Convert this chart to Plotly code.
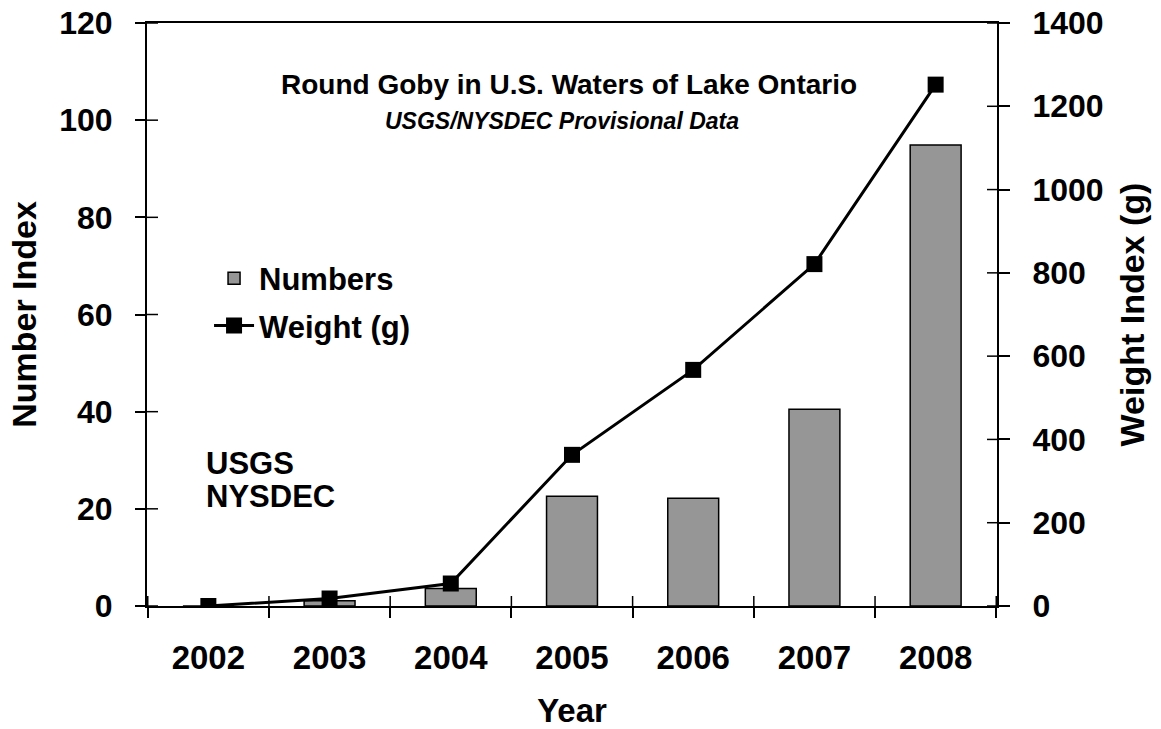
import plotly.graph_objects as go

years = ["2002", "2003", "2004", "2005", "2006", "2007", "2008"]
numbers = [0.0, 1.1, 3.6, 22.6, 22.2, 40.5, 94.9]
weight_g = [0, 18, 54, 363, 567, 821, 1252]

left_ticks = [0, 20, 40, 60, 80, 100, 120]
right_ticks = [0, 200, 400, 600, 800, 1000, 1200, 1400]

FONT = "Liberation Sans, Arial, sans-serif"


def bf(size):
    return dict(family=FONT, size=size, color="black", weight="bold")


fig = go.Figure()
fig.add_trace(go.Bar(
    x=years, y=numbers, name="Numbers", legendgroup="a",
    marker=dict(color="#969696", line=dict(color="black", width=1.5)),
    yaxis="y",
))
fig.add_trace(go.Scatter(
    x=years, y=weight_g, name="Weight (g)", mode="lines+markers", legendgroup="b",
    line=dict(color="black", width=3),
    marker=dict(symbol="square", size=16, color="black"),
    yaxis="y2",
))

W, H = 1161, 729
ml, mr, mt, mb = 147, 164, 23, 123
pw, ph = W - ml - mr, H - mt - mb

shapes = []
# inside halves of the crossing tick marks
for v in left_ticks:
    shapes.append(dict(type="line", xref="paper", yref="y", x0=0, x1=11 / pw, y0=v, y1=v,
                       line=dict(color="black", width=1.5)))
for v in right_ticks:
    shapes.append(dict(type="line", xref="paper", yref="y2", x0=1 - 10 / pw, x1=1, y0=v, y1=v,
                       line=dict(color="black", width=1.5)))
for i in range(len(years) + 1):
    shapes.append(dict(type="line", xref="x", yref="paper", x0=i - 0.5, x1=i - 0.5, y0=0, y1=10 / ph,
                       line=dict(color="black", width=1.5)))

fig.update_layout(
    width=W, height=H,
    margin=dict(l=ml, r=mr, t=mt, b=mb, pad=0, autoexpand=False),
    paper_bgcolor="white", plot_bgcolor="white",
    font=bf(20),
    bargap=0.58,
    showlegend=True,
    legend=dict(x=0.073, y=0.608, xanchor="left", yanchor="top",
                font=bf(31), bgcolor="rgba(0,0,0,0)", tracegroupgap=4, itemwidth=40),
    xaxis=dict(
        type="category", tickson="boundaries", ticks="outside", ticklen=10, tickwidth=1.5,
        tickcolor="black", showline=True, linecolor="black", linewidth=2, mirror=True,
        tickfont=bf(33), ticklabelstandoff=21, automargin=False,
        title=dict(text="Year", font=bf(33), standoff=29),
        showgrid=False, zeroline=False,
    ),
    yaxis=dict(
        range=[0, 120], tickvals=left_ticks, ticks="outside", ticklen=10, tickwidth=1.5,
        tickcolor="black", showline=True, linecolor="black", linewidth=2, mirror=True,
        tickfont=bf(32), ticklabelstandoff=16, automargin=False, ticklabeloverflow="allow",
        title=dict(text="Number Index", font=bf(34), standoff=12),
        showgrid=False, zeroline=False,
    ),
    yaxis2=dict(
        range=[0, 1400], tickvals=right_ticks, overlaying="y", side="right",
        ticks="outside", ticklen=11, tickwidth=1.5, tickcolor="black",
        showline=True, linecolor="black", linewidth=2, automargin=False,
        tickfont=bf(32), ticklabelstandoff=16, ticklabeloverflow="allow",
        title=dict(text="Weight Index (g)", font=bf(34), standoff=18),
        showgrid=False, zeroline=False,
    ),
    shapes=shapes,
    annotations=[
        dict(text="Round Goby in U.S. Waters of Lake Ontario", xref="paper", yref="paper",
             x=0.497, y=0.894, xanchor="center", yanchor="middle", showarrow=False,
             font=bf(28)),
        dict(text="<i>USGS/NYSDEC Provisional Data</i>", xref="paper", yref="paper",
             x=0.488, y=0.832, xanchor="center", yanchor="middle", showarrow=False,
             font=bf(23)),
        dict(text="USGS", xref="paper", yref="paper",
             x=0.067, y=0.245, xanchor="left", yanchor="middle", align="left", showarrow=False,
             font=bf(31)),
        dict(text="NYSDEC", xref="paper", yref="paper",
             x=0.067, y=0.187, xanchor="left", yanchor="middle", align="left", showarrow=False,
             font=bf(31)),
    ],
)

# remove the browser's default 8px body margin so the figure fills the window
fig.write_html("out.html",
               config={"displayModeBar": False},
               post_script="document.body.style.margin='0';document.body.style.overflow='hidden';")
